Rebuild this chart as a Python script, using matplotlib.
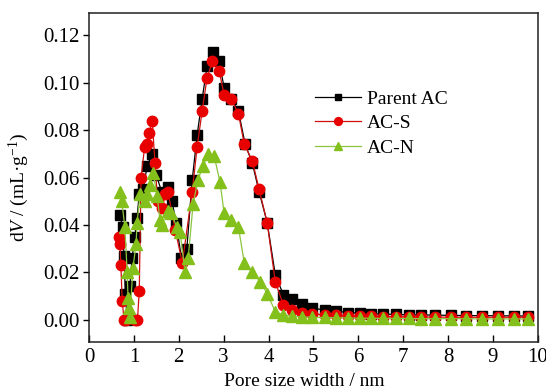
import matplotlib
matplotlib.use("Agg")
import matplotlib.pyplot as plt

plt.rcParams['font.family'] = ['Liberation Serif', 'DejaVu Serif']
plt.rcParams['mathtext.fontset'] = 'custom'
plt.rcParams['mathtext.rm'] = 'Liberation Serif'
plt.rcParams['mathtext.it'] = 'Liberation Serif:italic'

# ---- data ----
parent_x = [0.69, 0.75, 0.78, 0.81, 0.85, 0.91, 0.96, 1.02, 1.07, 1.12,
            1.20, 1.30, 1.41, 1.50, 1.62, 1.76, 1.85, 1.94, 2.06, 2.18,
            2.30, 2.41, 2.52, 2.63, 2.77, 2.90, 3.01, 3.17, 3.33, 3.48,
            3.64, 3.79, 3.97, 4.15, 4.33, 4.53, 4.75, 4.97, 5.25, 5.51,
            5.78, 6.03, 6.29, 6.56, 6.83, 7.12, 7.39, 7.70, 8.06, 8.41,
            8.75, 9.11, 9.46, 9.78]
parent_y = [0.044, 0.039, 0.027, 0.011, 0.000, 0.014, 0.026, 0.035, 0.043, 0.053,
            0.055, 0.065, 0.070, 0.061, 0.054, 0.056, 0.050, 0.041, 0.026, 0.030,
            0.059, 0.078, 0.093, 0.107, 0.113, 0.109, 0.098, 0.093, 0.088, 0.074,
            0.066, 0.054, 0.041, 0.019, 0.0105, 0.0085, 0.0067, 0.005, 0.004, 0.0035,
            0.003, 0.0027, 0.0025, 0.0023, 0.0022, 0.002, 0.002, 0.0019, 0.0018, 0.0017,
            0.0017, 0.0016, 0.0016, 0.0015]

acs_x = [0.67, 0.69, 0.71, 0.74, 0.78, 0.82, 1.03, 1.08, 1.12, 1.16,
         1.24, 1.29, 1.34, 1.41, 1.47, 1.53, 1.62, 1.70, 1.76, 1.92,
         2.08, 2.30, 2.41, 2.52, 2.63, 2.75, 2.90, 3.01, 3.17, 3.33,
         3.46, 3.64, 3.79, 3.97, 4.15, 4.33, 4.53, 4.75, 4.97, 5.25,
         5.51, 5.78, 6.03, 6.29, 6.56, 6.83, 7.12, 7.39, 7.70, 8.06,
         8.41, 8.75, 9.11, 9.46, 9.78]
acs_y = [0.035, 0.032, 0.023, 0.008, 0.000, 0.000, 0.000, 0.000, 0.012, 0.060,
         0.073, 0.074, 0.079, 0.084, 0.066, 0.050, 0.047, 0.053, 0.054, 0.038,
         0.024, 0.054, 0.073, 0.088, 0.102, 0.109, 0.105, 0.095, 0.093, 0.087,
         0.074, 0.067, 0.055, 0.041, 0.016, 0.0063, 0.004, 0.003, 0.0025, 0.002,
         0.0018, 0.0016, 0.0015, 0.0014, 0.0013, 0.0012, 0.0012, 0.0011, 0.0011, 0.001,
         0.001, 0.001, 0.001, 0.001, 0.001]

acn_x = [0.69, 0.73, 0.80, 0.85, 0.87, 0.89, 0.91, 0.98, 1.05, 1.07,
         1.14, 1.25, 1.29, 1.36, 1.43, 1.52, 1.58, 1.62, 1.76, 1.83,
         1.96, 2.03, 2.14, 2.21, 2.32, 2.43, 2.54, 2.66, 2.79, 2.92,
         3.01, 3.17, 3.33, 3.46, 3.64, 3.82, 3.97, 4.15, 4.33, 4.53,
         4.75, 4.97, 5.25, 5.51, 5.78, 6.03, 6.29, 6.56, 6.83, 7.12,
         7.39, 7.70, 8.06, 8.41, 8.75, 9.11, 9.46, 9.78]
acn_y = [0.054, 0.050, 0.039, 0.020, 0.0093, 0.005, 0.001, 0.022, 0.032, 0.041,
         0.053, 0.050, 0.053, 0.057, 0.062, 0.052, 0.042, 0.040, 0.046, 0.045,
         0.039, 0.037, 0.020, 0.026, 0.049, 0.059, 0.065, 0.070, 0.069, 0.058,
         0.045, 0.042, 0.039, 0.024, 0.020, 0.016, 0.011, 0.0034, 0.002, 0.0015,
         0.0012, 0.001, 0.0009, 0.0008, 0.0007, 0.0006, 0.0006, 0.0005, 0.0005, 0.0005,
         0.0004, 0.0004, 0.0004, 0.0004, 0.0003, 0.0003, 0.0003, 0.0003]

labels = ["Parent AC", "AC-S", "AC-N"]
x_ticks = [0, 1, 2, 3, 4, 5, 6, 7, 8, 9, 10]
y_ticks = [0.00, 0.02, 0.04, 0.06, 0.08, 0.10, 0.12]

# ---- figure ----
fig = plt.figure(figsize=(5.46, 3.91), dpi=100)
ax = fig.add_axes([0.163, 0.125, 0.822, 0.842])

ax.plot(parent_x, parent_y, '-', color='black', lw=0.9,
        marker='s', ms=6.5, mfc='black', mec='black', label=labels[0], zorder=3)
ax.plot(acs_x, acs_y, '-', color='#d01010', lw=0.9,
        marker='o', ms=7.5, mfc='#e80000', mec='#e80000', label=labels[1], zorder=4)
ax.plot(acn_x, acn_y, '-', color='#8cc63f', lw=0.9,
        marker='^', ms=8.5, mfc='#84c01c', mec='#84c01c', label=labels[2], zorder=5)

ax.set_xlim(0, 10)
ax.set_ylim(-0.0095, 0.1295)
ax.set_xticks(x_ticks)
ax.set_xticklabels([str(t) for t in x_ticks])
ax.set_yticks(y_ticks)
ax.set_yticklabels([f"{t:.2f}" for t in y_ticks])

ax.tick_params(axis='x', direction='in', length=5, width=1, labelsize=15, pad=4)
ax.tick_params(axis='y', direction='out', length=4, width=1, labelsize=15, pad=3)
for s in ax.spines.values():
    s.set_linewidth(1.1)
    s.set_color('#222222')

ax.set_xlabel("Pore size width / nm", fontsize=14)
ax.set_ylabel(r"d$\it{V}$ / (mL·g$^{-1}$)", fontsize=14)
ax.xaxis.set_label_coords(0.48, -0.095)
ax.yaxis.set_label_coords(-0.13, 0.47)

ax.legend(loc='upper left', bbox_to_anchor=(0.503, 0.765), frameon=False,
          fontsize=14, handlelength=2.4, handletextpad=0.3, labelspacing=0.35,
          borderaxespad=0, borderpad=0, markerscale=0.75)

fig.savefig("out.png", dpi=100)
